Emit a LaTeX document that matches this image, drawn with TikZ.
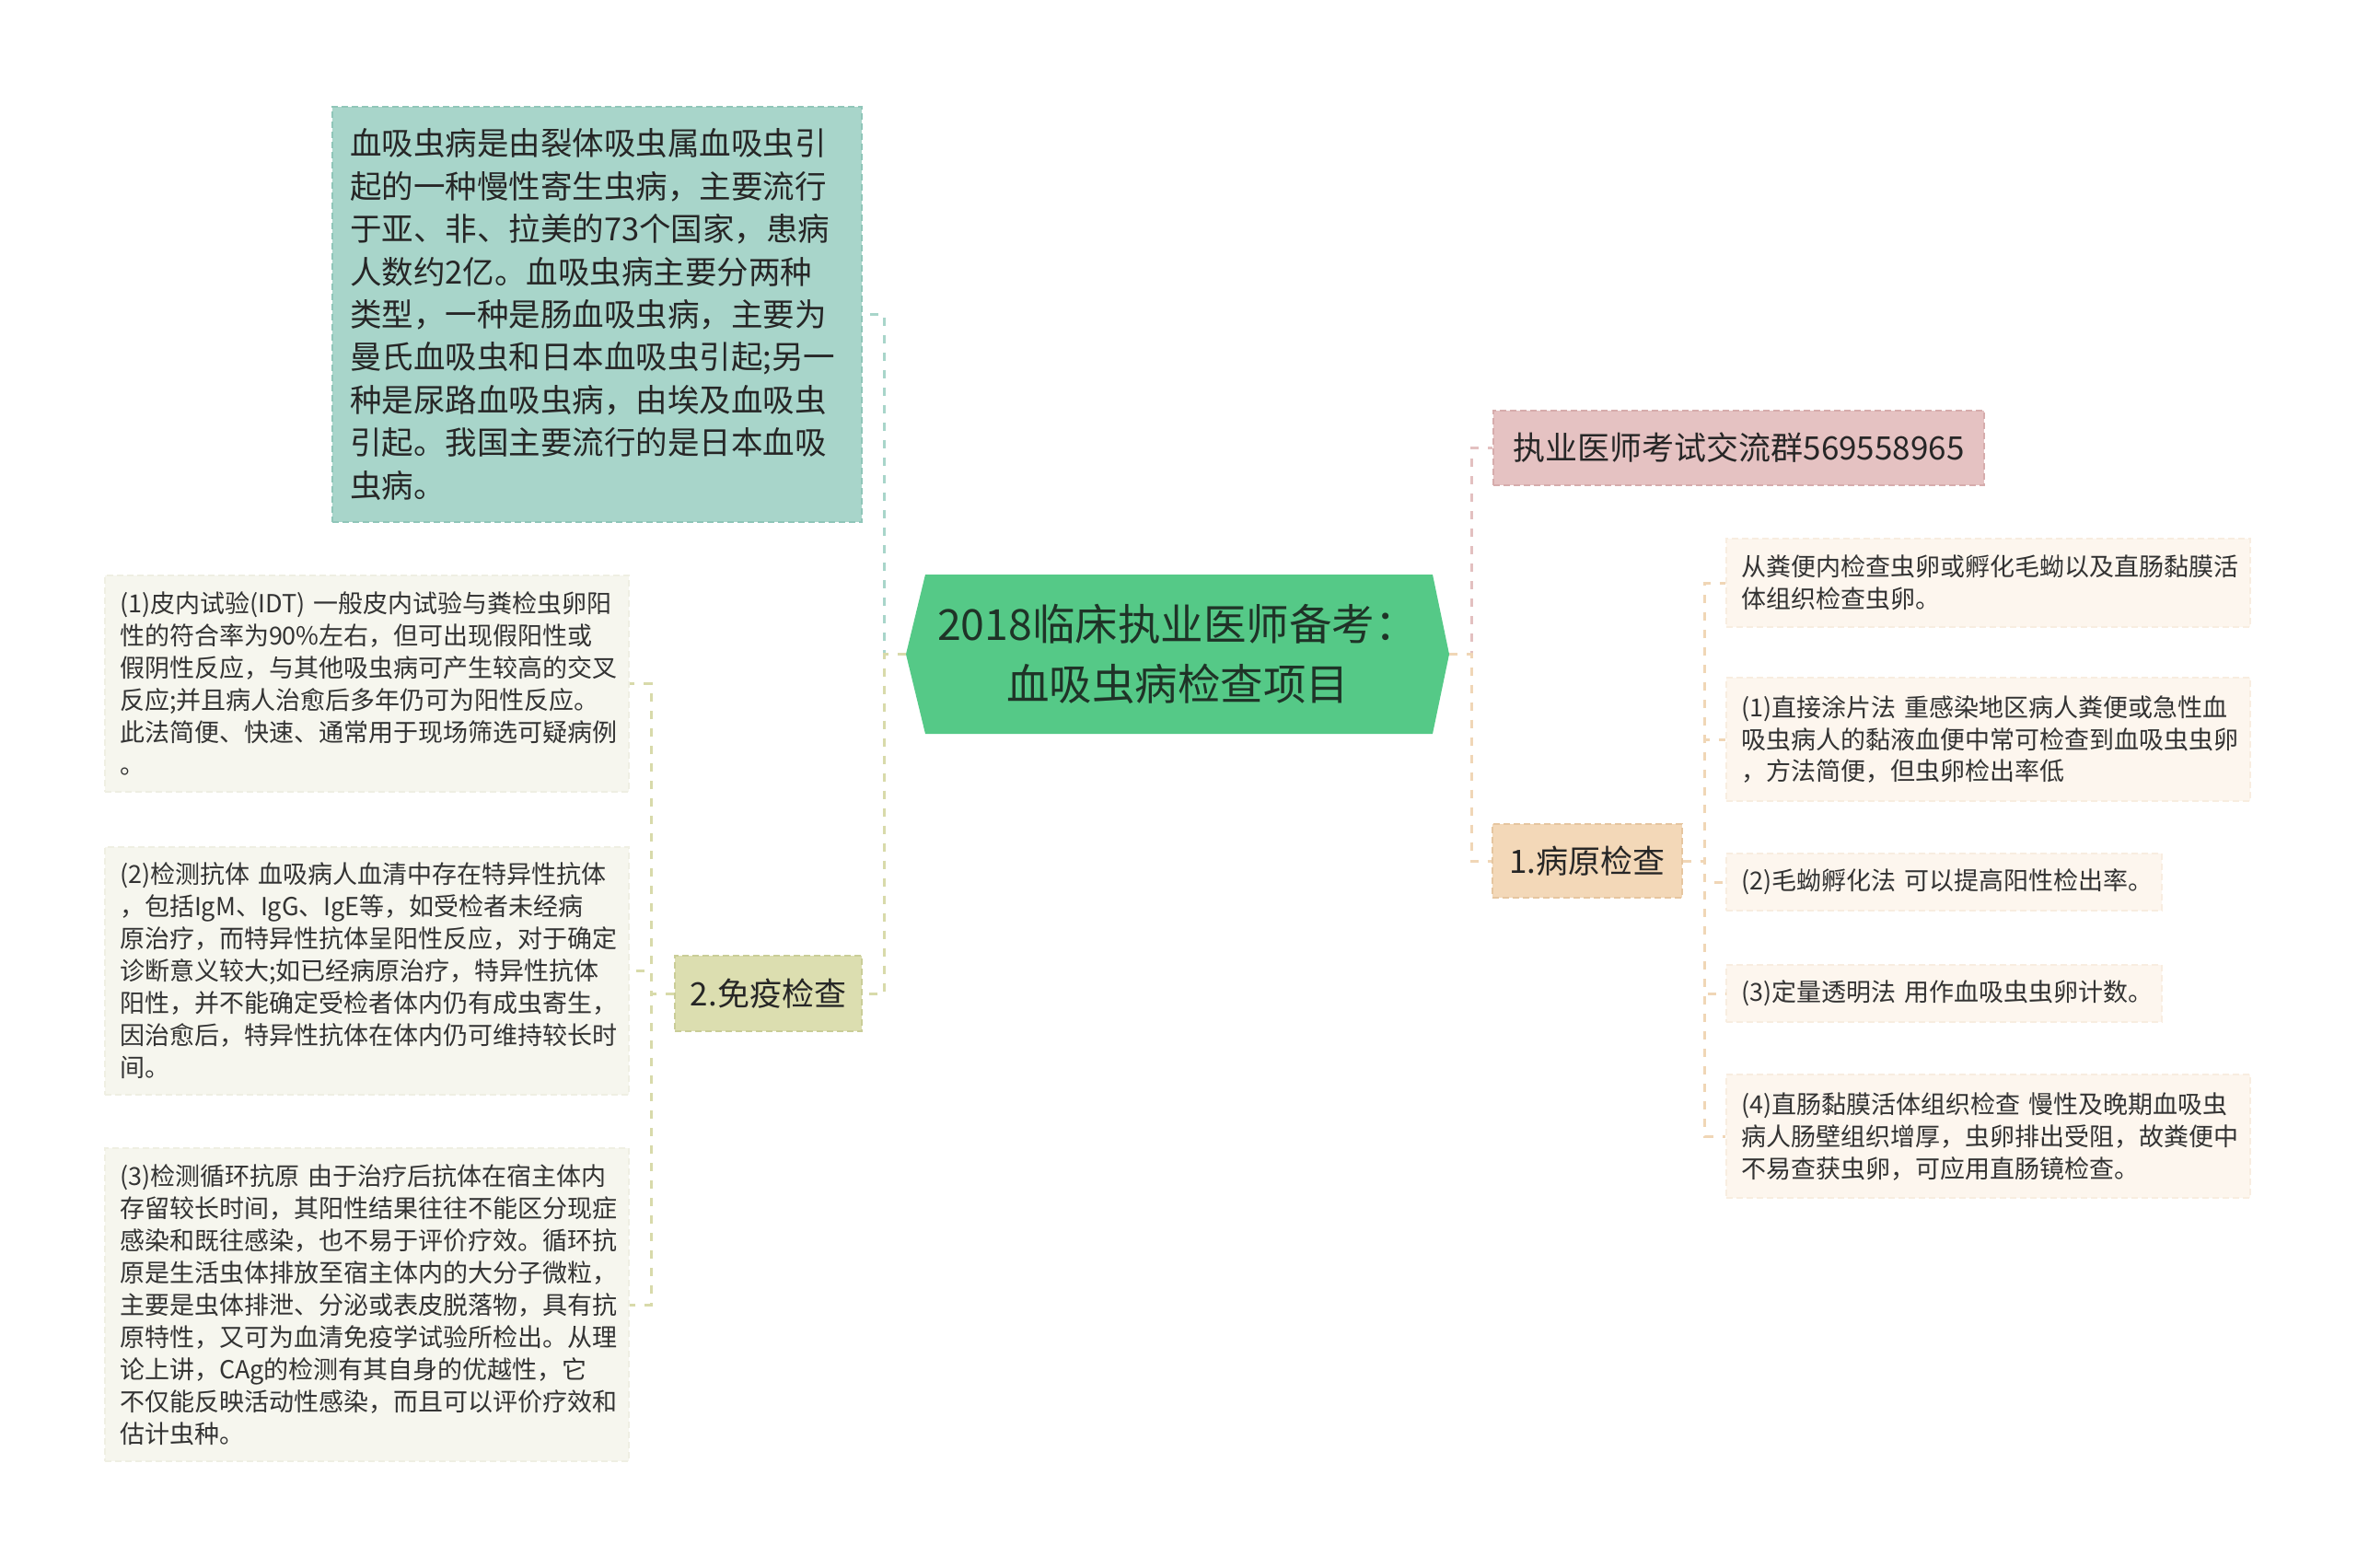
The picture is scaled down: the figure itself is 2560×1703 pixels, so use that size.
\documentclass[tikz,border=0pt]{standalone}
\usepackage{fontspec}
\setmainfont{Noto Sans CJK SC}
\usetikzlibrary{calc}
\definecolor{tealF}{HTML}{A8D5CA}
\definecolor{tealD}{HTML}{90C6B9}
\definecolor{rootF}{HTML}{55C987}
\definecolor{rootT}{HTML}{1F3327}
\definecolor{pinkF}{HTML}{E5C2C2}
\definecolor{pinkD}{HTML}{D6ACAC}
\definecolor{peachF}{HTML}{F3D8B8}
\definecolor{peachD}{HTML}{E6C6A0}
\definecolor{oliveF}{HTML}{DCDEB0}
\definecolor{oliveD}{HTML}{CACD98}
\definecolor{leafLF}{HTML}{F6F6EE}
\definecolor{leafLD}{HTML}{EFEFE3}
\definecolor{leafRF}{HTML}{FDF6EE}
\definecolor{leafRD}{HTML}{F8EDE0}
\definecolor{txt}{HTML}{333333}
\definecolor{cTeal}{HTML}{A8D5CA}
\definecolor{cPink}{HTML}{E3C0C0}
\definecolor{cPeach}{HTML}{F0D6B6}
\definecolor{cOlive}{HTML}{D8DAAA}
\tikzset{
  boxbase/.style={rectangle, inner xsep=16pt, inner ysep=0pt, align=left, text=txt, dash pattern=on 7pt off 4pt, line width=1.5pt},
  leafl/.style={boxbase, fill=leafLF, draw=leafLD, font=\fontsize{27}{35}\selectfont},
  leafr/.style={boxbase, fill=leafRF, draw=leafRD, font=\fontsize{27}{35}\selectfont},
  tealbox/.style={boxbase, inner xsep=19pt, fill=tealF, draw=tealD, font=\fontsize{34.5}{46.4}\selectfont, text=black!85},
  topic/.style={boxbase, align=center, inner xsep=0pt, font=\fontsize{35}{42}\selectfont, text=black!85},
  conn/.style={line width=3pt, dash pattern=on 9pt off 10pt},
}
\begin{document}
\begin{tikzpicture}[x=1pt,y=-1pt]
\useasboundingbox (0,0) rectangle (2560,1703);
\fill[white] (0,0) rectangle (2560,1703);

% root hexagon
\fill[rootF] (984,710.5) -- (1005,624) -- (1556,624) -- (1574,710.5) -- (1556,797) -- (1005,797) -- cycle;
\node[minimum width=590pt, minimum height=173pt, inner sep=0pt, align=center, text=rootT, font=\fontsize{46.5}{65}\selectfont] (root) at (1279,710.5) {2018临床执业医师备考：\\血吸虫病检查项目};

% teal description
\node[tealbox, minimum width=575pt, minimum height=451pt, text width=537pt] (desc) at (648.5,341.5) {血吸虫病是由裂体吸虫属血吸虫引\\起的一种慢性寄生虫病，主要流行\\于亚、非、拉美的73个国家，患病\\人数约2亿。血吸虫病主要分两种\\类型，一种是肠血吸虫病，主要为\\曼氏血吸虫和日本血吸虫引起;另一\\种是尿路血吸虫病，由埃及血吸虫\\引起。我国主要流行的是日本血吸\\虫病。};

% level-1 topics
\node[topic, fill=pinkF, draw=pinkD, minimum width=533pt, minimum height=81pt] (qq) at (1888.5,486.5) {执业医师考试交流群569558965};
\node[topic, fill=peachF, draw=peachD, minimum width=206pt, minimum height=80pt] (path) at (1724,935) {1.病原检查};
\node[topic, fill=oliveF, draw=oliveD, minimum width=203pt, minimum height=82pt] (immu) at (834.5,1079) {2.免疫检查};

% left leaves
\node[leafl, minimum width=569pt, minimum height=235pt, text width=537pt] (la) at (398.5,742.5) {(1)皮内试验(IDT) 一般皮内试验与粪检虫卵阳\\性的符合率为90\%左右，但可出现假阳性或\\假阴性反应，与其他吸虫病可产生较高的交叉\\反应;并且病人治愈后多年仍可为阳性反应。\\此法简便、快速、通常用于现场筛选可疑病例\\。};
\node[leafl, minimum width=569pt, minimum height=269pt, text width=537pt] (lb) at (398.5,1054.5) {(2)检测抗体 血吸病人血清中存在特异性抗体\\，包括IgM、IgG、IgE等，如受检者未经病\\原治疗，而特异性抗体呈阳性反应，对于确定\\诊断意义较大;如已经病原治疗，特异性抗体\\阳性，并不能确定受检者体内仍有成虫寄生，\\因治愈后，特异性抗体在体内仍可维持较长时\\间。};
\node[leafl, minimum width=569pt, minimum height=340pt, text width=537pt] (lc) at (398.5,1417) {(3)检测循环抗原 由于治疗后抗体在宿主体内\\存留较长时间，其阳性结果往往不能区分现症\\感染和既往感染，也不易于评价疗效。循环抗\\原是生活虫体排放至宿主体内的大分子微粒，\\主要是虫体排泄、分泌或表皮脱落物，具有抗\\原特性，又可为血清免疫学试验所检出。从理\\论上讲，CAg的检测有其自身的优越性，它\\不仅能反映活动性感染，而且可以评价疗效和\\估计虫种。};

% right leaves
\node[leafr, minimum width=569pt, minimum height=96pt, text width=537pt] (ra) at (2159.5,633) {从粪便内检查虫卵或孵化毛蚴以及直肠黏膜活\\体组织检查虫卵。};
\node[leafr, minimum width=569pt, minimum height=134pt, text width=537pt] (rb) at (2159.5,803) {(1)直接涂片法 重感染地区病人粪便或急性血\\吸虫病人的黏液血便中常可检查到血吸虫虫卵\\，方法简便，但虫卵检出率低};
\node[leafr, minimum width=473pt, minimum height=62pt, text width=441pt] (rc) at (2111.5,958) {\makebox[441pt][l]{(2)毛蚴孵化法 可以提高阳性检出率。}};
\node[leafr, minimum width=473pt, minimum height=62pt, text width=441pt] (rd) at (2111.5,1079) {\makebox[441pt][l]{(3)定量透明法 用作血吸虫虫卵计数。}};
\node[leafr, minimum width=569pt, minimum height=134pt, text width=537pt] (re) at (2159.5,1234) {(4)直肠黏膜活体组织检查 慢性及晚期血吸虫\\病人肠壁组织增厚，虫卵排出受阻，故粪便中\\不易查获虫卵，可应用直肠镜检查。};

% connectors
\draw[conn, cTeal] (root.west) -- ++(-23,0) |- (desc.east);
\draw[conn, cOlive] (root.west) -- ++(-23,0) |- (immu.east);
\draw[conn, cPink] (root.east) -- ++(24,0) |- (qq.west);
\draw[conn, cPeach] (root.east) -- ++(24,0) |- (path.west);

\foreach \t in {ra,rb,rc,rd,re}
  \draw[conn, cPeach] (path.east) -- ++(24,0) |- (\t.west);
\foreach \t in {la,lb,lc}
  \draw[conn, cOlive] (immu.west) -- ++(-25,0) |- (\t.east);
\end{tikzpicture}
\end{document}
